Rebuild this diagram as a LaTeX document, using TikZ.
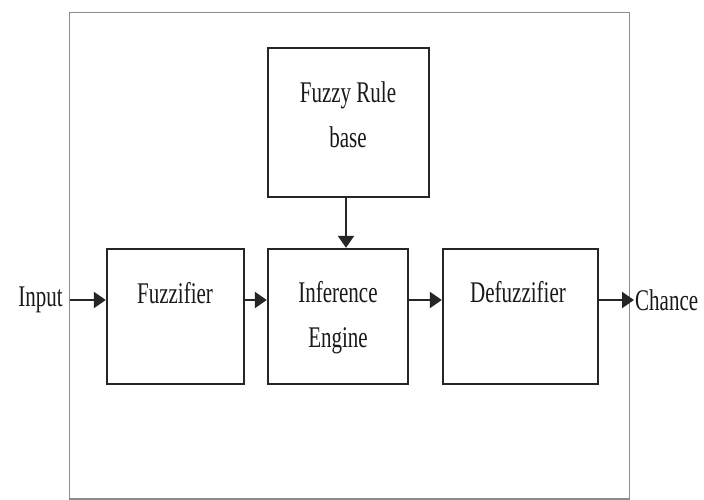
\documentclass[tikz,border=0pt]{standalone}
\usepackage{fontspec}
\setmainfont{Liberation Serif}
\usetikzlibrary{arrows.meta}
\newcommand{\nar}[1]{\scalebox{0.7}[1]{#1}}
\tikzset{
  blk/.style={draw=black!85, line width=2.4pt, minimum width=#1, inner sep=0pt, fill=white},
  lbl/.style={font=\fontsize{30}{45}\selectfont, text=black!90, inner sep=0pt, align=center, anchor=base},
  flow/.style={line width=2.2pt, draw=black!85, -{Triangle[length=12pt,width=16pt]}},
  frame/.style={draw=black!45, line width=1.3pt}
}
\begin{document}
\begin{tikzpicture}[x=1pt,y=-1pt]
  \useasboundingbox[fill=white] (0,0) rectangle (704,500);
  \draw[frame] (69.5,12.5) rectangle (629.5,499);
  % boxes
  \node[blk=161pt, minimum height=149pt] (rule) at (348.5,122.5) {};
  \node[blk=137pt, minimum height=135pt] (fz) at (175.5,316.5) {};
  \node[blk=140pt, minimum height=135pt] (inf) at (338,316.5) {};
  \node[blk=155pt, minimum height=135pt] (dfz) at (520.5,316.5) {};
  % labels
  \node[lbl] (tr1) at (348,103) {\nar{Fuzzy Rule}};
  \node[lbl] (tr2) at (348,148) {\nar{base}};
  \node[lbl] (tfz) at (175,303) {\nar{Fuzzifier}};
  \node[lbl] (ti1) at (338,302) {\nar{Inference}};
  \node[lbl] (ti2) at (338,347) {\nar{Engine}};
  \node[lbl] (tdf) at (518,302) {\nar{Defuzzifier}};
  \node[lbl, anchor=east] (in) at (63,300) {\nar{Input}};
  \node[lbl, anchor=west] (out) at (635,300) {\nar{Chance}};
  % connectors
  \draw[flow, shorten <=7pt] (in.east) -- (in.east -| fz.west);
  \draw[flow] (fz.east |- 0,300) -- (inf.west |- 0,300);
  \draw[flow] (inf.east |- 0,300) -- (dfz.west |- 0,300);
  \draw[flow, shorten >=1pt] (dfz.east |- 0,300) -- (out.west);
  \draw[flow] (rule.south -| 346,0) -- (inf.north -| 346,0);
\end{tikzpicture}
\end{document}
